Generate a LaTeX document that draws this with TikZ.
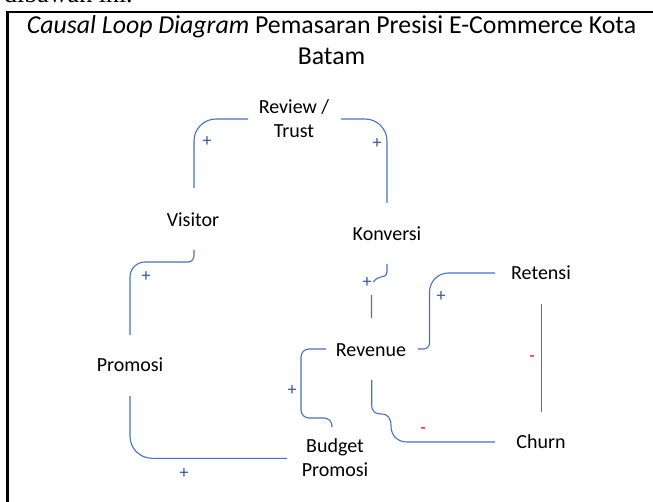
\documentclass[tikz,border=0pt]{standalone}
\usepackage{fontspec}
\setmainfont{Carlito}
\newfontfamily\bodyserif{Liberation Serif}
\usetikzlibrary{calc}
\definecolor{linkblue}{HTML}{4472C4}
\definecolor{signblue}{HTML}{2F5597}
\definecolor{signred}{HTML}{FF0000}
\tikzset{
  var/.style={anchor=base, inner sep=0pt, align=center,
    font=\fontsize{20}{24.5}\selectfont, text=black},
  link/.style={draw=linkblue, line width=1.1pt},
  possign/.style={inner sep=0pt, text=signblue, font=\fontsize{18}{18}\selectfont},
  negsign/.style={inner sep=0pt, text=signred, font=\fontsize{18}{18}\selectfont},
}
\begin{document}
\begin{tikzpicture}[x=1pt, y=-1pt]
\useasboundingbox (0,0) rectangle (653,502);
\clip (0,0) rectangle (653,502);

% running text of the page above the frame
\node[anchor=base west, inner sep=0pt, font=\bodyserif\fontsize{26}{26}\selectfont] (lead) at (4,2.7) {dibawah ini.};

% frame
\draw[line width=2.3pt] (7.5,520) -- (7.5,12) -- (660,12);

% title (base anchor = baseline of the last line)
\node[anchor=base, inner sep=0pt, align=center, font=\fontsize{25.8}{31}\selectfont] (title) at (331.5,65)
  {\textit{Causal Loop Diagram} Pemasaran Presisi E-Commerce Kota\\Batam};

% variables
\node[var] (review) at (294,137.7) {Review /\\Trust};
\node[var] (visitor) at (193,226.7) {Visitor};
\node[var] (konversi) at (387,241) {Konversi};
\node[var] (retensi) at (541,280) {Retensi};
\node[var] (revenue) at (371,356) {Revenue};
\node[var] (promosi) at (130,371.7) {Promosi};
\node[var] (budget) at (335,476.7) {Budget\\Promosi};
\node[var] (churn) at (541,448) {Churn};

% links
\draw[link, rounded corners=22] ($(visitor.base)+(1,-38.7)$) |- ($(review.base)+(-46,-18.7)$);
\draw[link, rounded corners=22] ($(review.base)+(47,-18.7)$) -| ($(konversi.base)+(0,-38)$);
\draw[link] ($(visitor.base)+(1,23.3)$) [rounded corners=6] -- (194,262) [rounded corners=15] -- (130,262) -- ($(promosi.base)+(0,-36.7)$);
\draw[link, rounded corners=22] ($(promosi.base)+(0,24.3)$) |- ($(budget.base)+(-48,-18.4)$);
\draw[link, rounded corners=8] ($(budget.base)+(-3,-49.7)$) -- (332,418) -- (301,418) -- (301,349) -- ($(revenue.base)+(-45,-7)$);
\draw[link] ($(revenue.base)+(0.5,-38)$) -- (371.5,295)
  ($(konversi.base)+(0,23)$) -- (387,271) .. controls (387,276) and (384,277) .. (381,277)
  .. controls (378,277) and (376,279) .. (373,282);
\draw[link] ($(revenue.base)+(47,-7)$) [rounded corners=6] -- (429.5,349) [rounded corners=19] -- (429.5,273) -- ($(retensi.base)+(-46,-7)$);
\draw[link] ($(retensi.base)+(0.3,24)$) -- ($(churn.base)+(0.3,-36)$);
\draw[link] ($(revenue.base)+(0.7,24)$) -- (371.7,405)
  .. controls (371.7,412) and (376,414) .. (381,414)
  .. controls (388,414) and (391,418) .. (391,426)
  .. controls (391,436) and (398,442) .. (407,442) -- ($(churn.base)+(-46,-6)$);

% polarity signs
\node[possign] (s1) at (207,142) {+};
\node[possign] (s2) at (377,144) {+};
\node[possign] (s3) at (146,277) {+};
\node[possign] (s4) at (184,474) {+};
\node[possign] (s5) at (292,391) {+};
\node[possign] (s6) at (367,283) {+};
\node[possign] (s7) at (441,297) {+};
\node[negsign] (s8) at (532,359) {-};
\node[negsign] (s9) at (423,431) {-};
\end{tikzpicture}
\end{document}
